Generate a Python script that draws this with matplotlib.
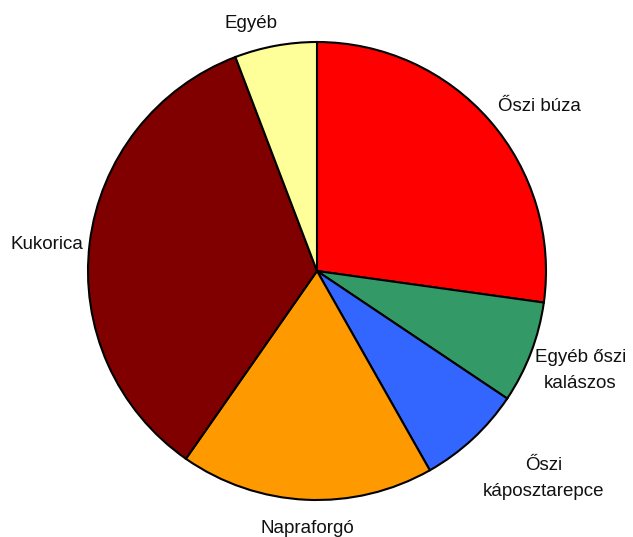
import matplotlib.pyplot as plt

labels = ['Őszi búza', 'Egyéb őszi\nkalászos', 'Őszi\nkáposztarepce',
          'Napraforgó', 'Kukorica', 'Egyéb']
shares = [27.2, 7.2, 7.4, 17.9, 34.5, 5.8]
colors = ['#FF0000', '#339966', '#3366FF', '#FF9900', '#800000', '#FFFF99']
label_pos = [(0.97, 0.72), (1.15, -0.435), (0.99, -0.905),
             (-0.04, -1.125), (-1.18, 0.115), (-0.29, 1.08)]

plt.rcParams['font.family'] = ['Liberation Sans', 'DejaVu Sans']

fig = plt.figure(figsize=(6.33, 5.37), dpi=100)
cx, cy, r = 317, 271, 229
ax = fig.add_axes([(cx - r) / 633, (537 - cy - r) / 537, 2 * r / 633, 2 * r / 537])

wedges, texts = ax.pie(shares, colors=colors, startangle=90, counterclock=False,
                       labels=labels, radius=1,
                       wedgeprops=dict(edgecolor='black', linewidth=1.5),
                       textprops=dict(fontsize=13.5, color='#111111'))
for t, (x, y) in zip(texts, label_pos):
    t.set_position((x, y))
    t.set_ha('center')
    t.set_va('center')
    t.set_multialignment('center')
    t.set_linespacing(1.7)

ax.set_xlim(-1, 1)
ax.set_ylim(-1, 1)
ax.set_aspect('auto')
ax.axis('off')

fig.savefig('out.png', dpi=100)
